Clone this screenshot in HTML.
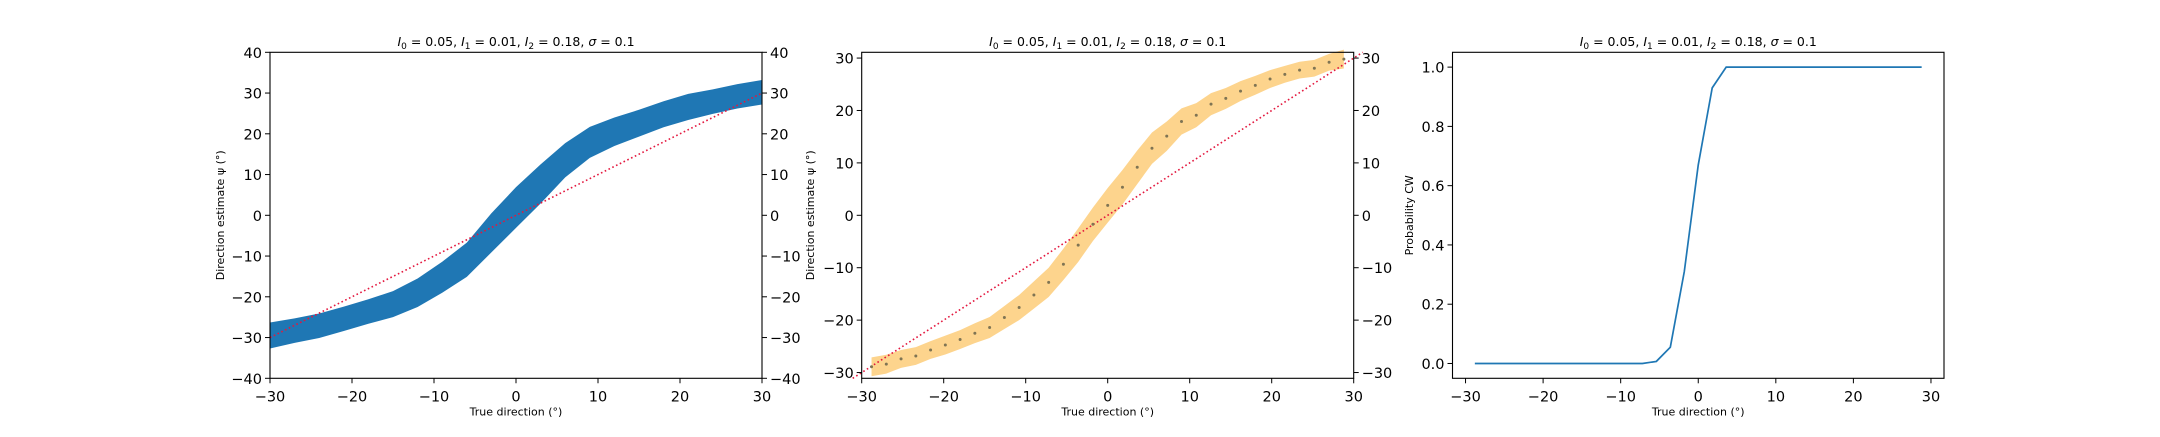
<!DOCTYPE html>
<html><head><meta charset="utf-8"><style>
html,body{margin:0;padding:0;background:#fff;}
svg text{font-family:"DejaVu Sans","Liberation Sans",sans-serif;fill:#000;}
</style></head><body>
<svg id="fig" width="2160" height="432" viewBox="0 0 2160 432" xmlns="http://www.w3.org/2000/svg"></svg>
<script>
// ---- Panel 1: scatter band data ----
const scatterX = [-30,-27,-24,-21,-18,-15,-12,-9,-6,-3,0,3,6,9,12,15,18,21,24,27,30];
const scatterMean = [-29.5,-28.3,-27.1,-25.4,-23.6,-21.8,-19,-15.2,-10.9,-4.3,1.9,7.7,13.5,17.9,20.5,22.6,24.8,26.6,27.9,29.2,30.2];
const scatterSpread = [3.2,3,3,3,3,3.2,3.5,3.8,4.2,4.8,5,4.8,4.2,3.8,3.5,3.3,3.2,3.2,3,3,3];
// ---- Panel 2: mean estimate and band ----
const meanX = [-28.8,-27,-25.2,-23.4,-21.6,-19.8,-18,-16.2,-14.4,-12.6,-10.8,-9,-7.2,-5.4,-3.6,-1.8,0,1.8,3.6,5.4,7.2,9,10.8,12.6,14.4,16.2,18,19.8,21.6,23.4,25.2,27,28.8];
const meanY = [-28.9,-28.4,-27.4,-26.85,-25.7,-24.75,-23.7,-22.5,-21.4,-19.5,-17.6,-15.2,-12.8,-9.35,-5.7,-1.7,1.9,5.35,9.16,12.8,15.1,17.9,19.1,21.2,22.3,23.7,24.8,26.0,26.9,27.7,28.05,29.2,29.8];
const bandHalf = [1.8,1.8,1.7,1.7,1.7,1.8,1.8,1.9,2.0,2.2,2.4,2.6,2.8,3.0,3.2,3.2,3.3,3.3,3.2,3.0,2.8,2.5,2.3,2.1,2.0,1.9,1.8,1.7,1.6,1.6,1.6,1.6,1.8];
// ---- Panel 3: probability CW ----
const probX = [-28.8,-27,-25.2,-23.4,-21.6,-19.8,-18,-16.2,-14.4,-12.6,-10.8,-9,-7.2,-5.4,-3.6,-1.8,0,1.8,3.6,5.4,7.2,9,10.8,12.6,14.4,16.2,18,19.8,21.6,23.4,25.2,27,28.8];
const probY = [0,0,0,0,0,0,0,0,0,0,0,0,0,0.007,0.055,0.31,0.67,0.93,1,1,1,1,1,1,1,1,1,1,1,1,1,1,1];
const ticks1 = [-40,-30,-20,-10,0,10,20,30,40];
const ticks2 = [-30,-20,-10,0,10,20,30];
const xticks = [-30,-20,-10,0,10,20,30];
const pticks = [0,0.2,0.4,0.6,0.8,1.0];

const NS="http://www.w3.org/2000/svg";
const svg=document.getElementById('fig');
function el(tag,attrs,parent,txt){const e=document.createElementNS(NS,tag);for(const k in attrs)e.setAttribute(k,attrs[k]);if(txt!==undefined)e.textContent=txt;(parent||svg).appendChild(e);return e;}
function axis(x0,x1,y0,y1,xmin,xmax,ymin,ymax){return{sx:v=>x0+(v-xmin)/(xmax-xmin)*(x1-x0),sy:v=>y1-(v-ymin)/(ymax-ymin)*(y1-y0),x0,x1,y0,y1};}
function fmt(v){return v<0?'\u2212'+Math.abs(v):String(v);}
function title(cx,parent){
  const t=el('text',{x:cx,y:46,'text-anchor':'middle','font-size':'12.5'},parent);
  
  
  const parts=[['I','i'],['0','s'],[' = 0.05, ',''],['I','i'],['1','s'],[' = 0.01, ',''],['I','i'],['2','s'],[' = 0.18, ',''],['σ','i'],[' = 0.1','']];
  parts.forEach(p=>{const s=el('tspan',{},t,p[0]);if(p[1]==='i')s.setAttribute('font-style','italic');if(p[1]==='s'){s.setAttribute('font-size','9');s.setAttribute('dy','3');}else if(s.previousSibling&&s.previousSibling.getAttribute&&s.previousSibling.getAttribute('dy')==='3'){s.setAttribute('dy','-3');}});
}
function frame(a,g){const r=el('rect',{x:a.x0,y:a.y0,width:a.x1-a.x0,height:a.y1-a.y0,fill:'none',stroke:'#000','stroke-width':1.1},g);}
function xTicks(a,vals,g,labelFmt){vals.forEach(v=>{const x=a.sx(v);el('line',{x1:x,x2:x,y1:a.y1,y2:a.y1+5,stroke:'#000','stroke-width':1},g);const t=el('text',{x:x,y:a.y1+23,'text-anchor':'middle','font-size':'14.5'},g,labelFmt?labelFmt(v):fmt(v));});}
function yTicks(a,vals,g,side,labelFmt){vals.forEach(v=>{const y=a.sy(v);const xs=side==='left'?a.x0:a.x1;const d=side==='left'?-5:5;el('line',{x1:xs,x2:xs+d,y1:y,y2:y,stroke:'#000','stroke-width':1},g);const t=el('text',{x:xs+(side==='left'?-8:8),y:y+5.5,'text-anchor':side==='left'?'end':'start','font-size':'14.5'},g,labelFmt?labelFmt(v):fmt(v));});}
function xLabel(a,g){const t=el('text',{x:(a.x0+a.x1)/2,y:a.y1+37,'text-anchor':'middle','font-size':'11'},g,'True direction (°)');}
function yLabel(x,a,g,txt){const cy=(a.y0+a.y1)/2;const t=el('text',{x:x,y:cy,'text-anchor':'middle','font-size':'11',transform:`rotate(-90 ${x} ${cy})`},g,txt);}
function idLine(a,g,lo,hi){const l=el('line',{x1:a.sx(lo),y1:a.sy(lo),x2:a.sx(hi),y2:a.sy(hi),stroke:'#e3173e','stroke-width':1.6,'stroke-dasharray':'1.6,2.6'},g);}

// Panel 1
const g1=el('g',{});
const a1=axis(270,762,52.3,378.3,-30,30,-40,40);
let up=scatterX.map((x,i)=>`${a1.sx(x)},${a1.sy(scatterMean[i]+scatterSpread[i])}`);
let dn=scatterX.map((x,i)=>`${a1.sx(x)},${a1.sy(scatterMean[i]-scatterSpread[i])}`).reverse();
const cp=el('clipPath',{id:'c1'},g1);el('rect',{x:a1.x0,y:a1.y0,width:a1.x1-a1.x0,height:a1.y1-a1.y0},cp);
const sb=el('polygon',{points:up.concat(dn).join(' '),fill:'#1f77b4','clip-path':'url(#c1)'},g1);


idLine(a1,g1,-30,30);
frame(a1,g1);yTicks(a1,ticks1,g1,'left');yTicks(a1,ticks1,g1,'right');xTicks(a1,xticks,g1);xLabel(a1,g1);yLabel(224,a1,g1,'Direction estimate ψ (°)');title((a1.x0+a1.x1)/2,g1);

// Panel 2
const g2=el('g',{});
const a2=axis(861.7,1353.7,52.3,378.3,-30,30,-31.1,31.1);
up=meanX.map((x,i)=>`${a2.sx(x)},${a2.sy(meanY[i]+bandHalf[i])}`);
dn=meanX.map((x,i)=>`${a2.sx(x)},${a2.sy(meanY[i]-bandHalf[i])}`).reverse();
const band=el('polygon',{points:up.concat(dn).join(' '),fill:'#fdd48d'},g2);


idLine(a2,g2,-31.1,31.1);
meanX.forEach((x,i)=>{const c=el('circle',{cx:a2.sx(x),cy:a2.sy(meanY[i]),r:1.5,fill:'#7f7453'},g2);});
frame(a2,g2);yTicks(a2,ticks2,g2,'left');yTicks(a2,ticks2,g2,'right');xTicks(a2,xticks,g2);xLabel(a2,g2);yLabel(814,a2,g2,'Direction estimate ψ (°)');title((a2.x0+a2.x1)/2,g2);

// Panel 3
const g3=el('g',{});
const a3=axis(1452.5,1944,52.3,378.3,-31.68,31.68,-0.05,1.05);
const pl=el('polyline',{points:probX.map((x,i)=>`${a3.sx(x)},${a3.sy(probY[i])}`).join(' '),fill:'none',stroke:'#1f77b4','stroke-width':1.7},g3);


frame(a3,g3);yTicks(a3,pticks,g3,'left',v=>v.toFixed(1));xTicks(a3,xticks,g3);xLabel(a3,g3);yLabel(1413,a3,g3,'Probability CW');title((a3.x0+a3.x1)/2,g3);
</script>
</body></html>
